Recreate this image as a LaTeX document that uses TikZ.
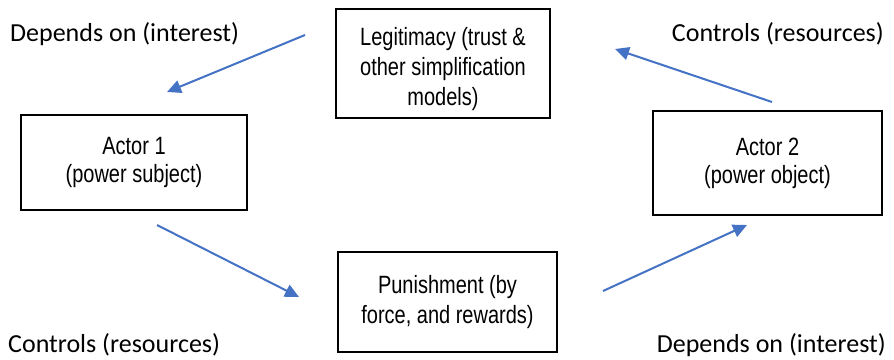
\documentclass[tikz,border=0pt]{standalone}
\usepackage{fontspec}
\setmainfont{Liberation Sans}
\newfontfamily\boxfont[FakeStretch=0.8]{Liberation Sans}
\newfontfamily\labelfont{Carlito}
\usetikzlibrary{arrows.meta}
\definecolor{arrowblue}{RGB}{68,114,196}
\tikzset{
  x=1pt, y=-1pt,
  box/.style={draw=black, line width=1.5pt, inner sep=0pt},
  boxtext/.style={align=center, inner sep=0pt,
    font=\boxfont\fontsize{25}{30}\selectfont},
  flow/.style={draw=arrowblue, line width=2pt,
    -{Triangle[length=14pt,width=13pt]}},
  corner/.style={inner sep=0pt, font=\labelfont\fontsize{26}{28}\selectfont}
}
\begin{document}
\begin{tikzpicture}
\useasboundingbox (0,0) rectangle (894,359);
% boxes
\node[box, minimum width=214pt, minimum height=109pt] (legit) at (443,63.5) {};
\node[boxtext] (legittext) at ([yshift=-6pt]legit.center)
  {Legitimacy (trust \&\\other simplification\\models)};
\node[box, minimum width=219pt, minimum height=100pt] (punish) at (447.5,302) {};
\node[boxtext] (punishtext) at (punish.center)
  {Punishment (by\\force, and rewards)};
\node[box, minimum width=226pt, minimum height=95pt] (actor1) at (134,162.5) {};
\node[boxtext, font=\boxfont\fontsize{25}{28}\selectfont] (actor1text) at (actor1.center)
  {Actor 1\\(power subject)};
\node[box, minimum width=229pt, minimum height=104pt] (actor2) at (767.5,163) {};
\node[boxtext, font=\boxfont\fontsize{25}{28}\selectfont] (actor2text) at (actor2.center)
  {Actor 2\\(power object)};
% corner labels
\node[corner, anchor=base west] (dep1) at (10,41) {Depends on (interest)};
\node[corner, anchor=base east] (ctl1) at (884,41) {Controls (resources)};
\node[corner, anchor=base west] (ctl2) at (8,352) {Controls (resources)};
\node[corner, anchor=base east] (dep2) at (886,352) {Depends on (interest)};
% arrow end points
\coordinate (a1s) at (305,35);  \coordinate (a1e) at (167,92);
\coordinate (a2s) at (772,102); \coordinate (a2e) at (615,49);
\coordinate (a3s) at (157,225); \coordinate (a3e) at (299,297);
\coordinate (a4s) at (603,291); \coordinate (a4e) at (747,225);
\draw[flow] (a1s) -- (a1e);
\draw[flow] (a2s) -- (a2e);
\draw[flow] (a3s) -- (a3e);
\draw[flow] (a4s) -- (a4e);
\end{tikzpicture}
\end{document}
